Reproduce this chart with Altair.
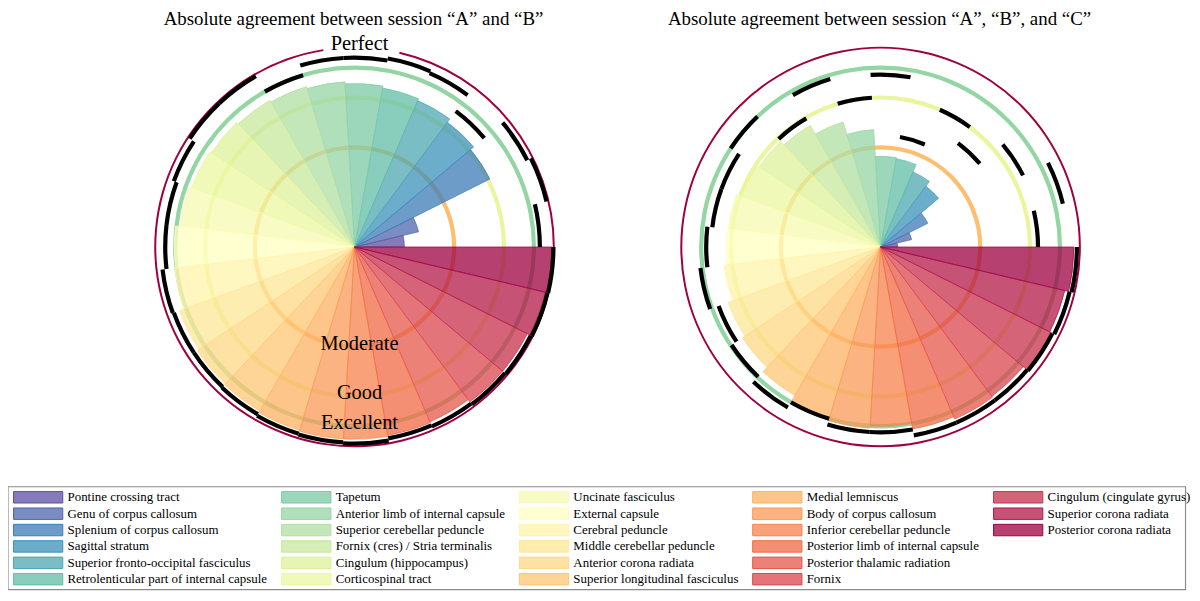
import numpy as np
import pandas as pd
import altair as alt

# ---------------- data ----------------
names = [
    "Pontine crossing tract", "Genu of corpus callosum", "Splenium of corpus callosum",
    "Sagittal stratum", "Superior fronto-occipital fasciculus",
    "Retrolenticular part of internal capsule", "Tapetum",
    "Anterior limb of internal capsule", "Superior cerebellar peduncle",
    "Fornix (cres) / Stria terminalis", "Cingulum (hippocampus)", "Corticospinal tract",
    "Uncinate fasciculus", "External capsule", "Cerebral peduncle",
    "Middle cerebellar peduncle", "Anterior corona radiata",
    "Superior longitudinal fasciculus", "Medial lemniscus", "Body of corpus callosum",
    "Inferior cerebellar peduncle", "Posterior limb of internal capsule",
    "Posterior thalamic radiation", "Fornix", "Cingulum (cingulate gyrus)",
    "Superior corona radiata", "Posterior corona radiata",
]

# ICC between sessions A and B, and upper confidence bound
icc_ab = [0.25, 0.33, 0.76, 0.78, 0.80, 0.81, 0.82, 0.83, 0.84, 0.85, 0.86, 0.87, 0.88,
          0.905, 0.91, 0.935, 0.945, 0.95, 0.96, 0.965, 0.965, 0.96, 0.955, 0.97, 0.97,
          0.985, 0.99]
upper_ab = [0.93, 0.99, 0.97, 0.85, 0.95, 0.96, 0.95, 0.95, 0.90, 0.99, 0.99, 0.965, 0.95,
            0.95, 0.97, 0.965, 0.965, 0.97, 0.978, 0.982, 0.987, 0.975, 0.98, 0.985, 0.99,
            0.995, 0.998]

# ICC between sessions A, B and C, and upper confidence bound
icc_abc = [0.085, 0.16, 0.265, 0.38, 0.41, 0.45, 0.455, 0.59, 0.655, 0.705, 0.73, 0.74,
           0.77, 0.775, 0.79, 0.815, 0.83, 0.86, 0.895, 0.91, 0.90, 0.928, 0.94, 0.935,
           0.962, 0.95, 0.97]
upper_abc = [0.79, 0.94, 0.80, 0.65, 0.75, 0.56, 0.865, 0.75, 0.88, 0.745, 0.90, 0.85,
             0.85, 0.875, 0.91, 0.865, 0.895, 0.93, 0.90, 0.93, 0.93, 0.96, 0.96, 0.96,
             0.965, 0.975, 0.985]

levels = [0.5, 0.75, 0.9, 1.0]
level_labels = ["Moderate", "Good", "Excellent", "Perfect"]
level_colors = ["#fdbf6f", "#eaf59e", "#93d5a3", "#9e0142"]

titles = ["Absolute agreement between session \u201cA\u201d and \u201cB\u201d",
          "Absolute agreement between session \u201cA\u201d, \u201cB\u201d, and \u201cC\u201d"]

spectral = ["#9e0142", "#d53e4f", "#f46d43", "#fdae61", "#fee08b", "#ffffbf",
            "#e6f598", "#abdda4", "#66c2a5", "#3288bd", "#5e4fa2"]

# ---------------- styling / layout ----------------
FONT = "Liberation Serif"
W, H = 1190, 585
R = 200.3
centers = [(348.3, 238.7), (877.0, 238.7)]
n = len(names)
step = 360.0 / n


def hex2rgb(h):
    return [int(h[i:i + 2], 16) / 255.0 for i in (1, 3, 5)]


ctrl = np.array([hex2rgb(h) for h in spectral])
pos = np.linspace(0, 1, len(spectral))
colors = []
for i in range(n):
    t = 1 - i / (n - 1)  # reversed colormap
    rgb = [np.interp(t, pos, ctrl[:, k]) for k in range(3)]
    colors.append("#%02x%02x%02x" % tuple(int(round(c * 255)) for c in rgb))

color_scale = alt.Scale(domain=names, range=colors)
theta_scale = alt.Scale(domain=[0, 360], range=[2.5 * np.pi, 0.5 * np.pi])
r_scale = alt.Scale(type="linear", domain=[0, 1], range=[0, R], nice=False)


def wedge_df(icc, upper):
    return pd.DataFrame({
        "name": names,
        "start": [i * step for i in range(n)],
        "end": [(i + 1) * step for i in range(n)],
        "icc": icc,
        "upper": upper,
    })


def panel(k, icc, upper, with_labels):
    cx, cy = centers[k]
    p = dict(x=alt.value(cx), y=alt.value(cy))
    layers = []
    # reference circles
    for lev, col in zip(levels, level_colors):
        half = 0.005 if lev == 1.0 else 0.0105
        segs = [(0.0, 360.0)]
        if with_labels and lev == 1.0:
            segs = [(0.0, 77.0), (99.0, 360.0)]
        rdf = pd.DataFrame({"start": [a for a, b in segs], "end": [b for a, b in segs],
                            "level": [lev] * len(segs)})
        ring = alt.Chart(rdf).transform_calculate(
            r_out=f"datum.level + {half}", r_in=f"datum.level - {half}"
        ).mark_arc(color=col).encode(
            **p,
            theta=alt.Theta("end:Q", scale=theta_scale, stack=False),
            theta2="start:Q",
            radius=alt.Radius("r_out:Q", scale=r_scale),
            radius2="r_in:Q",
        )
        layers.append(ring)
    df = wedge_df(icc, upper)
    wedges = alt.Chart(df).mark_arc(fillOpacity=0.75, strokeWidth=0.7).encode(
        **p,
        theta=alt.Theta("end:Q", scale=theta_scale, stack=False),
        theta2="start:Q",
        radius=alt.Radius("icc:Q", scale=r_scale),
        color=alt.Color("name:N", scale=color_scale, legend=None),
        stroke=alt.Stroke("name:N", scale=color_scale, legend=None),
    )
    layers.append(wedges)
    ub = alt.Chart(df).transform_calculate(
        u_out="datum.upper + 0.0105", u_in="datum.upper - 0.0105"
    ).mark_arc(color="black").encode(
        **p,
        theta=alt.Theta("end:Q", scale=theta_scale, stack=False),
        theta2="start:Q",
        radius=alt.Radius("u_out:Q", scale=r_scale),
        radius2="u_in:Q",
    )
    layers.append(ub)
    if with_labels:
        ldf = pd.DataFrame({"label": level_labels, "level": levels})
        lab = alt.Chart(ldf).transform_calculate(
            ang="datum.level == 1 ? 90 : 270",
            rr="datum.level == 1 ? datum.level + 0.02 : datum.level - 0.015",
        ).mark_text(font=FONT, fontSize=20.5, baseline="middle", align="center",
                    dx=5, color="black").encode(
            **p,
            theta=alt.Theta("ang:Q", scale=theta_scale, stack=False),
            radius=alt.Radius("rr:Q", scale=r_scale),
            text="label:N",
        )
        layers.append(lab)
    tdf = pd.DataFrame({"t": [titles[k]]})
    title = alt.Chart(tdf).mark_text(font=FONT, fontSize=19, baseline="alphabetic",
                                     align="center", color="black").encode(
        x=alt.value(cx - 1), y=alt.value(16), text="t:N")
    layers.append(title)
    return layers


left = panel(0, icc_ab, upper_ab, True)
right = panel(1, icc_abc, upper_abc, False)

# ---------------- legend ----------------
leg_df = pd.DataFrame({
    "name": names,
    "col": [i // 6 for i in range(n)],
    "row": [i % 6 for i in range(n)],
})
x_leg = alt.X("col:Q", scale=alt.Scale(domain=[0, 1, 2, 3, 4],
                                       range=[30.3, 299.8, 538.7, 773.2, 1015.3],
                                       nice=False, zero=False), axis=None)
y_leg = alt.Y("row:Q", scale=alt.Scale(domain=[0, 5], range=[490.3, 572.6],
                                       nice=False, zero=False), axis=None)

box = alt.Chart(pd.DataFrame({"a": [0]})).mark_rect(
    fillOpacity=0, stroke="#8c8c8c", strokeWidth=1.2).encode(
    x=alt.value(0), x2=alt.value(1183.5), y=alt.value(479.7), y2=alt.value(583))

patch_path = "M-1,-0.2323L1,-0.2323L1,0.2323L-1,0.2323Z"
patches = alt.Chart(leg_df).mark_point(
    shape=patch_path, filled=True, size=2450, opacity=1, fillOpacity=0.75,
    strokeWidth=1).encode(
    x=x_leg, y=y_leg,
    color=alt.Color("name:N", scale=color_scale, legend=None),
    stroke=alt.Stroke("name:N", scale=color_scale, legend=None),
)
leg_text = alt.Chart(leg_df).mark_text(
    font=FONT, fontSize=13, align="left", baseline="middle", dx=29.5,
    color="black").encode(x=x_leg, y=y_leg, text="name:N")

chart = alt.layer(*left, *right, box, patches, leg_text).properties(
    width=W, height=H, padding=0, autosize=alt.AutoSizeParams(type="none")
).configure_view(strokeWidth=0)

chart.save("out.html", embed_options={"renderer": "svg", "actions": False})
